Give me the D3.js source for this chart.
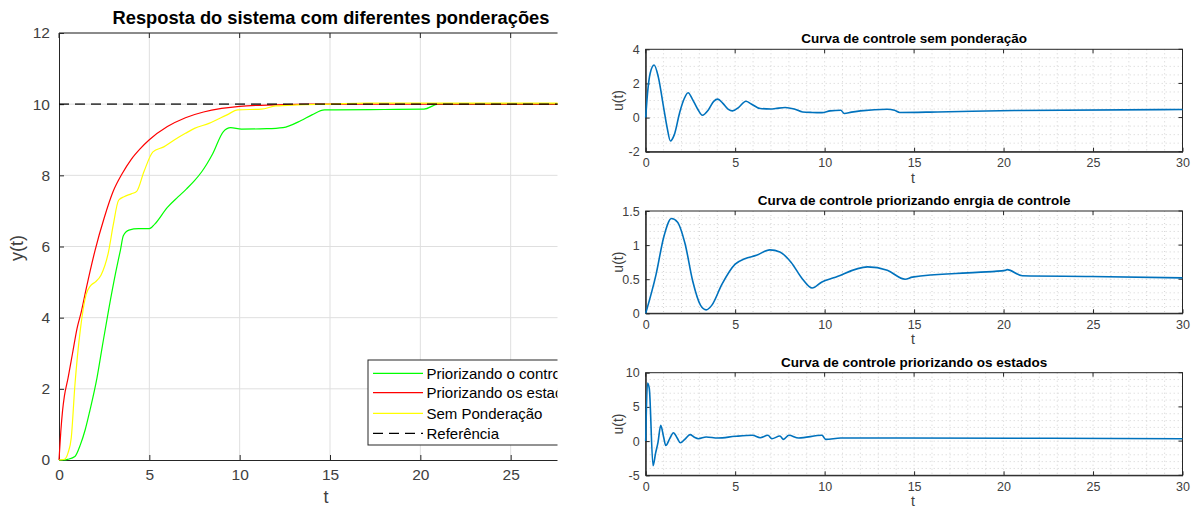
<!DOCTYPE html>
<html><head><meta charset="utf-8">
<script src="https://cdn.jsdelivr.net/npm/d3@7"></script>
<style>body{margin:0;background:#fff}svg{display:block;font-family:"Liberation Sans",Arial,sans-serif}</style>
</head><body><svg id="c" width="1197" height="510"></svg>
<script>
// ---- Left chart data: y(t) ----
const tGreen = [0,0.3,0.5,0.88,1.19,1.45,1.7,2.1,2.4,2.74,3.15,3.4,3.56,3.87,4.4,5.0,5.3,6.0,6.6,7.06,7.5,7.9,8.5,9.1,9.5,10.1,11.5,12.4,13.4,14.0,14.7,15.3,18,20.2,21.0,22,30];
const yGreen = [0,0.0,0.02,0.1,0.44,0.85,1.37,2.3,3.2,4.2,5.3,5.9,6.3,6.46,6.5,6.5,6.63,7.1,7.4,7.62,7.85,8.1,8.6,9.23,9.34,9.3,9.31,9.34,9.54,9.7,9.84,9.84,9.85,9.86,10.0,10.0,10.0];
const tRed = [0,0.1,0.2,0.3,0.5,0.75,1.0,1.25,1.5,2.0,2.5,3.0,3.5,4.0,4.5,5.0,6.0,7.0,8.0,9.0,10.0,12.0,14.0,30];
const yRed = [0,0.8,1.4,1.8,2.3,3.0,3.7,4.2,4.8,5.9,6.8,7.55,8.05,8.45,8.75,9.0,9.37,9.62,9.78,9.88,9.94,9.98,10.0,10.0];
const tYellow = [0,0.3,0.5,0.68,0.88,1.19,1.5,1.75,2.0,2.33,2.74,3.0,3.3,3.6,4.0,4.3,4.7,5.2,5.8,6.4,7.0,7.5,8.3,9.3,9.9,11.2,12.0,13.2,15.0,17.0,30];
const yYellow = [0,0.02,0.2,0.63,2.1,3.7,4.65,4.9,5.0,5.2,5.85,6.6,7.3,7.4,7.48,7.55,8.1,8.66,8.8,9.0,9.18,9.32,9.46,9.7,9.84,9.86,9.95,9.98,10.0,10.03,10.03];
const tRef = [0,30];
const yRef = [10,10];
const leftXTicks = [0,5,10,15,20,25,30];
const leftYTicks = [0,2,4,6,8,10,12];
const legendLabels = ["Priorizando o controle","Priorizando os estados","Sem Ponderação","Referência"];

// ---- Right charts data: u(t) ----
const tU1 = [0,0.1,0.25,0.47,0.7,1.0,1.2,1.38,1.6,1.9,2.15,2.37,2.6,2.9,3.17,3.5,3.8,4.03,4.3,4.6,4.85,5.2,5.6,5.9,6.4,7.0,7.26,7.8,8.3,8.77,9.3,9.85,10.3,10.9,11.1,11.5,12.0,13.5,13.9,14.2,16.3,20.6,30];
const uU1 = [0,1.4,2.6,3.08,2.4,0.6,-0.6,-1.37,-1.0,0.3,1.1,1.45,1.1,0.5,0.14,0.45,0.95,1.08,0.85,0.5,0.39,0.6,0.96,0.8,0.53,0.5,0.53,0.59,0.5,0.33,0.3,0.29,0.39,0.43,0.24,0.32,0.39,0.49,0.43,0.3,0.33,0.41,0.47];
const tU2 = [0,0.58,1.01,1.44,1.77,2.2,2.63,3.06,3.38,3.7,4.25,5.0,5.54,6.19,6.94,7.5,8.12,8.77,9.3,9.85,10.5,12.4,13.5,14.5,14.9,18.5,20.1,20.2,21.05,24.9,30];
const uU2 = [0,0.57,1.12,1.39,1.34,1.02,0.47,0.12,0.05,0.12,0.42,0.72,0.8,0.85,0.93,0.9,0.75,0.5,0.37,0.46,0.52,0.68,0.63,0.5,0.53,0.6,0.63,0.64,0.55,0.54,0.52];
const tU3 = [0,0.1,0.2,0.41,0.55,0.69,0.84,1.0,1.12,1.35,1.55,1.75,1.94,2.2,2.48,2.7,2.95,3.38,4.03,5.0,5.97,6.4,6.83,7.05,7.5,7.7,8.0,8.55,9.85,10.06,10.9,14.2,30];
const uU3 = [0,8.5,7.7,-3.6,-1.8,-0.15,2.3,0.6,-0.65,0.4,1.23,0.5,-0.25,0.3,0.94,0.6,0.35,0.6,0.45,0.7,0.85,0.5,0.85,0.35,0.75,0.25,0.85,0.45,0.85,0.25,0.45,0.45,0.35];
const rightXTicks = [0,5,10,15,20,25,30];
const panelTitles = ["Curva de controle sem ponderação","Curva de controle priorizando enrgia de controle","Curva de controle priorizando os estados"];
const panelYTicks = [[-2,0,2,4],[0,0.5,1,1.5],[-5,0,5,10]];
const panelYTickLabels = [["-2","0","2","4"],["0","0.5","1","1.5"],["-5","0","5","10"]];
const panelDomains = [[-2,4],[0,1.5],[-5,10]];
const panelMinorStep = [0.5,0.1,1];

const svg = d3.select("#c");
svg.append("rect").attr("width",1197).attr("height",510).attr("fill","#fff");
const AX = "#262626", TXT = "#404040";

// ================= LEFT CHART =================
svg.append("defs").append("clipPath").attr("id","lclip")
  .append("rect").attr("x",0).attr("y",0).attr("width",557.5).attr("height",510);
const L = svg.append("g").attr("clip-path","url(#lclip)");
const xL = d3.scaleLinear([0,30],[59,601]);
const yL = d3.scaleLinear([0,12],[460,33]);
L.append("g").selectAll("line").data(leftXTicks.slice(1)).join("line")
  .attr("x1",d=>xL(d)).attr("x2",d=>xL(d)).attr("y1",yL(0)).attr("y2",yL(12))
  .attr("stroke","#dfdfdf").attr("stroke-width",1);
L.append("g").selectAll("line").data(leftYTicks.slice(1)).join("line")
  .attr("x1",xL(0)).attr("x2",xL(30)).attr("y1",d=>yL(d)).attr("y2",d=>yL(d))
  .attr("stroke","#dfdfdf").attr("stroke-width",1);
const gxL = L.append("g").attr("transform",`translate(0,${yL(0)})`)
  .call(d3.axisBottom(xL).tickValues(leftXTicks).tickSize(-5).tickPadding(8).tickSizeOuter(0));
const gyL = L.append("g").attr("transform",`translate(${xL(0)},0)`)
  .call(d3.axisLeft(yL).tickValues(leftYTicks).tickSize(-5).tickPadding(9).tickSizeOuter(0));
[gxL,gyL].forEach(g=>{
  g.select(".domain").attr("stroke",AX);
  g.selectAll(".tick line").attr("stroke",AX);
  g.selectAll(".tick text").attr("fill",TXT).attr("font-size",15.5).attr("font-family","Liberation Sans, Arial, sans-serif");
});
gxL.selectAll(".tick text").attr("dy","0.75em");
L.append("line").attr("x1",xL(0)).attr("x2",xL(30)).attr("y1",yL(12)).attr("y2",yL(12)).attr("stroke",AX);
L.append("g").selectAll("line").data(leftXTicks).join("line")
  .attr("x1",d=>xL(d)).attr("x2",d=>xL(d)).attr("y1",yL(12)).attr("y2",yL(12)+5).attr("stroke",AX);

const lineL = (ts,ys)=>d3.line().x((d,i)=>xL(ts[i])).y((d,i)=>yL(ys[i])).curve(d3.curveMonotoneX)(ts);
const series = [
  {t:tGreen,y:yGreen,c:"#00ff00",dash:null},
  {t:tRed,y:yRed,c:"#ff0000",dash:null},
  {t:tYellow,y:yYellow,c:"#ffff00",dash:null},
  {t:tRef,y:yRef,c:"#000000",dash:"10,6"}
];
series.forEach(s=>{
  L.append("path").attr("d",lineL(s.t,s.y)).attr("fill","none").attr("stroke",s.c)
    .attr("stroke-width",s.dash?1.6:1.2).attr("stroke-dasharray",s.dash).attr("opacity",s.dash?0.7:1);
});
const lg = L.append("g");
lg.append("rect").attr("x",368).attr("y",360).attr("width",230).attr("height",85)
  .attr("fill","#fff").attr("stroke",AX).attr("stroke-width",1);
const rowY = [373.3,392.7,413.3,433.3];
series.forEach((s,i)=>{
  lg.append("line").attr("x1",373).attr("x2",423).attr("y1",rowY[i]).attr("y2",rowY[i])
    .attr("stroke",s.c).attr("stroke-width",1.2).attr("stroke-dasharray",s.dash?"10,6":null);
  lg.append("text").attr("x",426.5).attr("y",rowY[i]).attr("dy","0.35em")
    .attr("font-size",15).attr("fill","#000").text(legendLabels[i]);
});
svg.append("text").attr("x",331).attr("y",24).attr("text-anchor","middle")
  .attr("font-size",18.3).attr("font-weight","bold").attr("fill","#000")
  .text("Resposta do sistema com diferentes ponderações");
svg.append("text").attr("x",326).attr("y",503).attr("text-anchor","middle")
  .attr("font-size",18).attr("fill",TXT).text("t");
svg.append("text").attr("transform","translate(23,248) rotate(-90)").attr("text-anchor","middle")
  .attr("font-size",18).attr("fill",TXT).text("y(t)");

// ================= RIGHT CHARTS =================
const xR = d3.scaleLinear([0,30],[645.7,1182.5]);
const panels = [
  {top:49.3,bot:151.7,t:tU1,u:uU1},
  {top:211,bot:313.3,t:tU2,u:uU2},
  {top:372.7,bot:475.3,t:tU3,u:uU3}
];
const minorX = d3.range(0,31,1);
panels.forEach((p,k)=>{
  const dom = panelDomains[k];
  const y = d3.scaleLinear(dom,[p.bot,p.top]);
  const g = svg.append("g");
  const minorY = d3.range(dom[0], dom[1]+1e-9, panelMinorStep[k]).map(v=>+v.toFixed(4));
  g.append("g").selectAll("line").data(minorX.filter(v=>v>0&&v<30)).join("line")
    .attr("x1",d=>xR(d)).attr("x2",d=>xR(d)).attr("y1",p.top).attr("y2",p.bot)
    .attr("stroke","#c8c8c8").attr("stroke-width",0.8).attr("stroke-dasharray","1,3");
  g.append("g").selectAll("line").data(minorY.filter(v=>v>dom[0]&&v<dom[1])).join("line")
    .attr("x1",xR(0)).attr("x2",xR(30)).attr("y1",d=>y(d)).attr("y2",d=>y(d))
    .attr("stroke","#c8c8c8").attr("stroke-width",0.8).attr("stroke-dasharray","1,3");
  g.append("rect").attr("x",xR(0)).attr("y",p.top).attr("width",xR(30)-xR(0)).attr("height",p.bot-p.top)
    .attr("fill","none").attr("stroke",AX).attr("stroke-width",1);
  const gx = g.append("g").attr("transform",`translate(0,${p.bot})`)
    .call(d3.axisBottom(xR).tickValues(rightXTicks).tickSize(-4).tickPadding(6).tickSizeOuter(0));
  const gy = g.append("g").attr("transform",`translate(${xR(0)},0)`)
    .call(d3.axisLeft(y).tickValues(panelYTicks[k]).tickFormat((d,i)=>panelYTickLabels[k][i]).tickSize(-4).tickPadding(6).tickSizeOuter(0));
  [gx,gy].forEach(a=>{
    a.select(".domain").attr("stroke",AX);
    a.selectAll(".tick line").attr("stroke",AX);
    a.selectAll(".tick text").attr("fill",TXT).attr("font-size",12.5).attr("font-family","Liberation Sans, Arial, sans-serif");
  });
  gx.selectAll(".tick text").attr("dy","0.75em");
  g.append("g").selectAll("line").data(rightXTicks).join("line")
    .attr("x1",d=>xR(d)).attr("x2",d=>xR(d)).attr("y1",p.top).attr("y2",p.top+4).attr("stroke",AX);
  g.append("g").selectAll("line").data(panelYTicks[k]).join("line")
    .attr("x1",xR(30)).attr("x2",xR(30)-4).attr("y1",d=>y(d)).attr("y2",d=>y(d)).attr("stroke",AX);
  const line = d3.line().x((d,i)=>xR(p.t[i])).y((d,i)=>y(p.u[i])).curve(d3.curveMonotoneX);
  g.append("path").attr("d",line(p.t)).attr("fill","none").attr("stroke","#0072bd")
    .attr("stroke-width",1.6).attr("stroke-linejoin","round");
  svg.append("text").attr("x",(xR(0)+xR(30))/2).attr("y",p.top-6).attr("text-anchor","middle")
    .attr("font-size",13.5).attr("font-weight","bold").attr("fill","#000").text(panelTitles[k]);
  svg.append("text").attr("x",913).attr("y",p.bot+31).attr("text-anchor","middle")
    .attr("font-size",14).attr("fill",TXT).text("t");
  svg.append("text").attr("transform",`translate(623,${(p.top+p.bot)/2}) rotate(-90)`).attr("text-anchor","middle")
    .attr("font-size",14).attr("fill",TXT).text("u(t)");
});
</script></body></html>
